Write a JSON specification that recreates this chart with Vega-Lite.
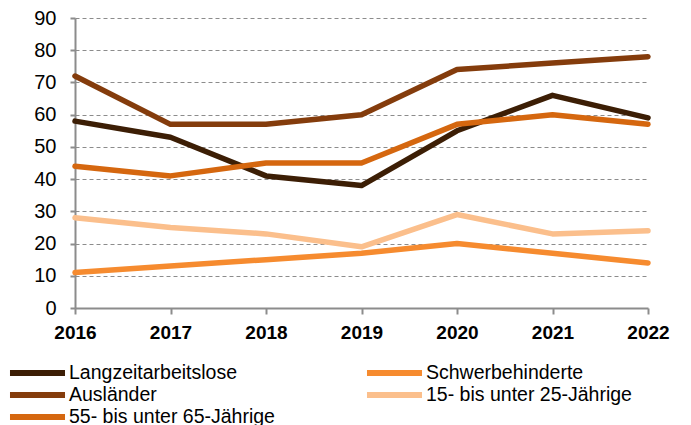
{
  "$schema": "https://vega.github.io/schema/vega-lite/v6.json",
  "width": 573,
  "height": 290,
  "autosize": "none",
  "padding": {"left": 75, "top": 18, "right": 43, "bottom": 117},
  "background": "white",
  "config": {
    "view": {"stroke": null},
    "font": "Liberation Sans"
  },
  "data": {
    "values": [
      {"jahr": "2016", "gruppe": "Langzeitarbeitslose", "wert": 58},
      {"jahr": "2017", "gruppe": "Langzeitarbeitslose", "wert": 53},
      {"jahr": "2018", "gruppe": "Langzeitarbeitslose", "wert": 41},
      {"jahr": "2019", "gruppe": "Langzeitarbeitslose", "wert": 38},
      {"jahr": "2020", "gruppe": "Langzeitarbeitslose", "wert": 55},
      {"jahr": "2021", "gruppe": "Langzeitarbeitslose", "wert": 66},
      {"jahr": "2022", "gruppe": "Langzeitarbeitslose", "wert": 59},
      {"jahr": "2016", "gruppe": "Ausländer", "wert": 72},
      {"jahr": "2017", "gruppe": "Ausländer", "wert": 57},
      {"jahr": "2018", "gruppe": "Ausländer", "wert": 57},
      {"jahr": "2019", "gruppe": "Ausländer", "wert": 60},
      {"jahr": "2020", "gruppe": "Ausländer", "wert": 74},
      {"jahr": "2021", "gruppe": "Ausländer", "wert": 76},
      {"jahr": "2022", "gruppe": "Ausländer", "wert": 78},
      {"jahr": "2016", "gruppe": "55- bis unter 65-Jährige", "wert": 44},
      {"jahr": "2017", "gruppe": "55- bis unter 65-Jährige", "wert": 41},
      {"jahr": "2018", "gruppe": "55- bis unter 65-Jährige", "wert": 45},
      {"jahr": "2019", "gruppe": "55- bis unter 65-Jährige", "wert": 45},
      {"jahr": "2020", "gruppe": "55- bis unter 65-Jährige", "wert": 57},
      {"jahr": "2021", "gruppe": "55- bis unter 65-Jährige", "wert": 60},
      {"jahr": "2022", "gruppe": "55- bis unter 65-Jährige", "wert": 57},
      {"jahr": "2016", "gruppe": "Schwerbehinderte", "wert": 11},
      {"jahr": "2017", "gruppe": "Schwerbehinderte", "wert": 13},
      {"jahr": "2018", "gruppe": "Schwerbehinderte", "wert": 15},
      {"jahr": "2019", "gruppe": "Schwerbehinderte", "wert": 17},
      {"jahr": "2020", "gruppe": "Schwerbehinderte", "wert": 20},
      {"jahr": "2021", "gruppe": "Schwerbehinderte", "wert": 17},
      {"jahr": "2022", "gruppe": "Schwerbehinderte", "wert": 14},
      {"jahr": "2016", "gruppe": "15- bis unter 25-Jährige", "wert": 28},
      {"jahr": "2017", "gruppe": "15- bis unter 25-Jährige", "wert": 25},
      {"jahr": "2018", "gruppe": "15- bis unter 25-Jährige", "wert": 23},
      {"jahr": "2019", "gruppe": "15- bis unter 25-Jährige", "wert": 19},
      {"jahr": "2020", "gruppe": "15- bis unter 25-Jährige", "wert": 29},
      {"jahr": "2021", "gruppe": "15- bis unter 25-Jährige", "wert": 23},
      {"jahr": "2022", "gruppe": "15- bis unter 25-Jährige", "wert": 24}
    ]
  },
  "mark": {"type": "line", "strokeWidth": 5.5, "strokeCap": "round", "strokeJoin": "round"},
  "encoding": {
    "x": {
      "field": "jahr",
      "type": "ordinal",
      "scale": {"type": "point", "padding": 0},
      "axis": {
        "title": null,
        "labelAngle": 0,
        "labelFont": "Liberation Sans",
        "labelFontSize": 19,
        "labelFontWeight": "bold",
        "labelColor": "#000000",
        "labelPadding": 9,
        "domainColor": "#8c8c8c",
        "domainWidth": 2,
        "tickColor": "#8c8c8c",
        "tickWidth": 2,
        "tickSize": 6,
        "grid": false
      }
    },
    "y": {
      "field": "wert",
      "type": "quantitative",
      "scale": {"domain": [0, 90], "nice": false},
      "axis": {
        "title": null,
        "values": [0, 10, 20, 30, 40, 50, 60, 70, 80, 90],
        "labelFont": "Liberation Sans",
        "labelFontSize": 20,
        "labelColor": "#000000",
        "labelPadding": 14,
        "domainColor": "#8c8c8c",
        "domainWidth": 2,
        "tickColor": "#8c8c8c",
        "tickWidth": 2,
        "tickSize": 5,
        "grid": true,
        "gridColor": "#8c8c8c",
        "gridWidth": 1,
        "gridDash": [4, 3]
      }
    },
    "color": {
      "field": "gruppe",
      "type": "nominal",
      "scale": {
        "domain": ["Langzeitarbeitslose", "Schwerbehinderte", "Ausländer", "15- bis unter 25-Jährige", "55- bis unter 65-Jährige"],
        "range": ["#3c1e05", "#f68b2f", "#843c0c", "#fbbf8c", "#d5670f"]
      },
      "legend": {
        "title": null,
        "orient": "none",
        "legendX": -47.5,
        "legendY": 345,
        "direction": "horizontal",
        "columns": 2,
        "columnPadding": 79,
        "rowPadding": -2.5,
        "symbolType": "M-3.93,0H3.93",
        "symbolSize": 196,
        "symbolStrokeWidth": 6,
        "labelFont": "Liberation Sans",
        "labelFontSize": 19.5,
        "labelColor": "#000000",
        "labelOffset": 21.5,
        "labelLimit": 400
      }
    }
  }
}
